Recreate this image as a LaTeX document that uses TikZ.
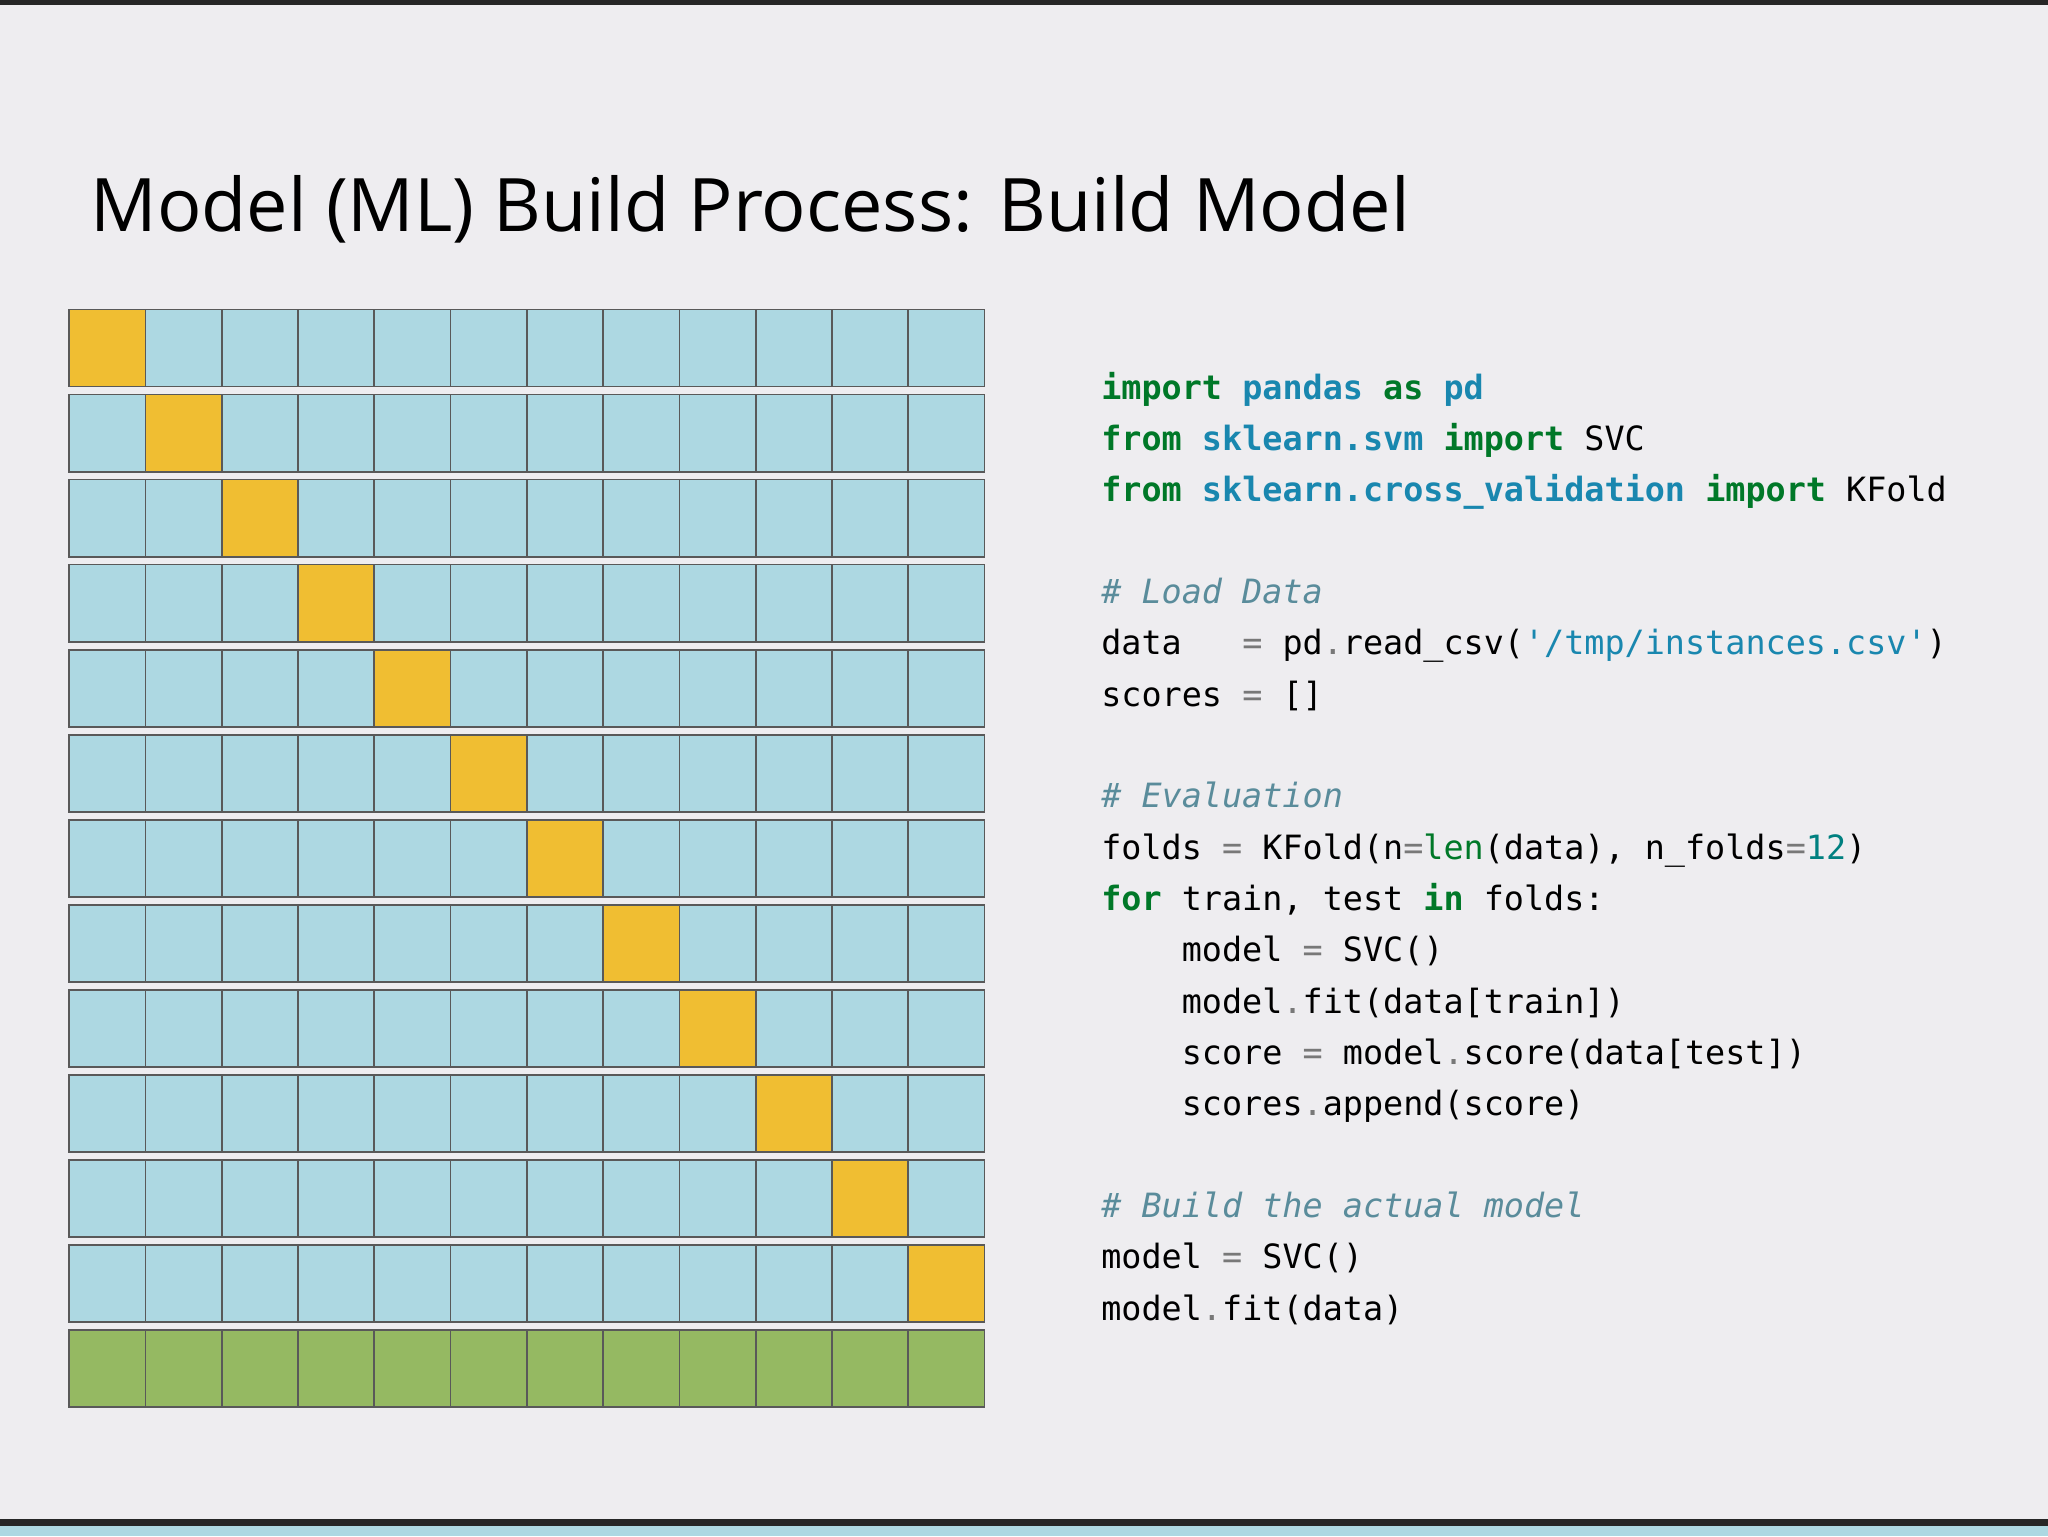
\documentclass[tikz,border=0pt]{standalone}
\usepackage{fontspec}
\setmainfont{Open Sans}
\setmonofont{DejaVu Sans Mono}
\usepackage{xcolor}
\usetikzlibrary{positioning}
\definecolor{slidebg}{RGB}{238,237,240}
\definecolor{cellblue}{RGB}{173,216,226}
\definecolor{cellgold}{RGB}{240,190,50}
\definecolor{cellgreen}{RGB}{149,185,98}
\definecolor{kwgreen}{RGB}{0,120,40}
\definecolor{modblue}{RGB}{25,135,175}
\definecolor{cmteal}{RGB}{90,140,155}
\definecolor{opgray}{RGB}{120,120,120}
\newcommand{\kw}[1]{\textcolor{kwgreen}{\bfseries #1}}
\newcommand{\md}[1]{\textcolor{modblue}{\bfseries #1}}
\newcommand{\str}[1]{\textcolor{modblue}{#1}}
\newcommand{\cm}[1]{\textcolor{cmteal}{\itshape #1}}
\newcommand{\op}[1]{\textcolor{opgray}{#1}}
\tikzstyle{cell}=[rectangle, draw=black!65, line width=1.3pt, minimum width=58.4pt, minimum height=59pt, inner sep=0pt, fill=cellblue]
\tikzstyle{code}=[anchor=base west, inner sep=0pt, font=\fontsize{25.6}{30}\ttfamily]
\begin{document}
\begin{tikzpicture}[x=1pt,y=-1pt]
\useasboundingbox (0,0) rectangle (1568,1176);
\fill[slidebg] (0,0) rectangle (1568,1176);
\fill[black!85] (0,0) rectangle (1568,4);
\fill[black!85] (0,1163) rectangle (1568,1168);
\fill[cellblue] (0,1168) rectangle (1568,1176);

\node[anchor=base west, inner sep=0pt, font=\fontsize{56.5}{64}\selectfont] (title) at (69,177) {Model (ML) Build Process: Build Model};

% folds
\foreach \r in {0,...,11}{
  \foreach \c in {0,...,11}{
    \ifnum\r=\c
      \node[cell, fill=cellgold] (c-\r-\c) at (82.2+58.4*\c, 266.5+65.1*\r) {};
    \else
      \node[cell] (c-\r-\c) at (82.2+58.4*\c, 266.5+65.1*\r) {};
    \fi
  }
}
% full data
\foreach \c in {0,...,11}
  \node[cell, fill=cellgreen] (g-\c) at (82.2+58.4*\c, 266.5+65.1*12) {};

% code
\node[code] (l1) at (843,306) {\kw{import} \md{pandas} \kw{as} \md{pd}};
\node[code] (l2) at (843,345) {\kw{from} \md{sklearn.svm} \kw{import} SVC};
\node[code] (l3) at (843,384) {\kw{from} \md{sklearn.cross\_validation} \kw{import} KFold};
\node[code] (l4) at (843,462) {\cm{\# Load Data}};
\node[code] (l5) at (843,501) {data~~~\op{=} pd\op{.}read\_csv(\str{'/tmp/instances.csv'})};
\node[code] (l6) at (843,541) {scores \op{=} []};
\node[code] (l7) at (843,618) {\cm{\# Evaluation}};
\node[code] (l8) at (843,658) {folds \op{=} KFold(n\op{=}\textcolor{kwgreen}{len}(data), n\_folds\op{=}\textcolor{teal}{12})};
\node[code] (l9) at (843,697) {\kw{for} train, test \kw{in} folds:};
\node[code] (l10) at (843,736) {~~~~model \op{=} SVC()};
\node[code] (l11) at (843,776) {~~~~model\op{.}fit(data[train])};
\node[code] (l12) at (843,815) {~~~~score \op{=} model\op{.}score(data[test])};
\node[code] (l13) at (843,854) {~~~~scores\op{.}append(score)};
\node[code] (l14) at (843,932) {\cm{\# Build the actual model}};
\node[code] (l15) at (843,971) {model \op{=} SVC()};
\node[code] (l16) at (843,1011) {model\op{.}fit(data)};
\end{tikzpicture}
\end{document}
